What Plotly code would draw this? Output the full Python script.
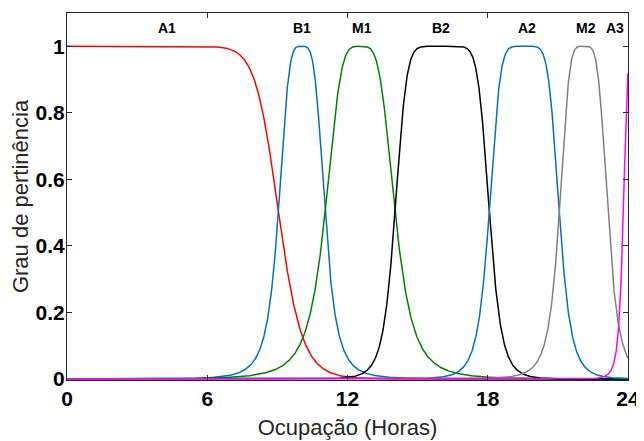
import numpy as np
import plotly.graph_objects as go

# membership function parameters (generalized bell): name, a, b, c, color
names = ["A1", "B1", "M1", "B2", "A2", "M2", "A3"]
a_vals = [9.05, 1.0, 1.5, 2.02, 1.5, 1.04, 0.55]
b_vals = [9.0, 2.0, 2.0, 3.9, 3.0, 2.25, 2.7]
c_vals = [0.0, 10.04, 12.54, 16.05, 19.56, 22.1, 24.35]
colors = ["#FF0000", "#0072BD", "#008000", "#000000", "#0072BD", "#808080", "#FF00FF"]
label_x = [4.28, 10.05, 12.62, 16.0, 19.68, 22.2, 23.45]
label_y = 1.055

x_ticks = [0, 6, 12, 18, 24]
y_ticks = [0, 0.2, 0.4, 0.6, 0.8, 1]

x = np.linspace(0, 24, 2401)

fig = go.Figure()
for n, a, b, c, col in zip(names, a_vals, b_vals, c_vals, colors):
    y = 1.0 / (1.0 + np.abs((x - c) / a) ** (2 * b))
    fig.add_trace(go.Scatter(x=x, y=y, mode="lines", name=n,
                             line=dict(color=col, width=1.5), showlegend=False))

for n, lx in zip(names, label_x):
    fig.add_annotation(x=lx, y=label_y, text="<b>%s</b>" % n, showarrow=False,
                       font=dict(family="Liberation Sans, Arial", size=14, color="#000000"))

tickfont = dict(family="Liberation Sans, Arial", size=21, color="#000000", weight=900)
axis_common = dict(showline=True, linecolor="#262626", linewidth=1, mirror="ticks",
                   ticks="inside", ticklen=5, tickcolor="#262626", showgrid=False,
                   zeroline=False, tickfont=tickfont, automargin=False)

fig.update_xaxes(range=[0, 24], tickvals=x_ticks, ticktext=[str(v) for v in x_ticks],
                 title=dict(text="Ocupação (Horas)", standoff=10,
                            font=dict(family="Liberation Sans, Arial", size=22, color="#262626")),
                 **axis_common)
fig.update_yaxes(range=[-0.003, 1.1], tickvals=y_ticks, ticktext=[("%g" % v) for v in y_ticks],
                 ticklabelstandoff=-3,
                 title=dict(text="Grau de pertinência", standoff=6,
                            font=dict(family="Liberation Sans, Arial", size=22, color="#262626")),
                 **axis_common)

# page body has an 8px margin, so the figure is offset by (8, 8)
fig.update_layout(width=636, height=433, margin=dict(l=59, r=16, t=5, b=61),
                  plot_bgcolor="white", paper_bgcolor="white")

fig.write_html("out.html")
